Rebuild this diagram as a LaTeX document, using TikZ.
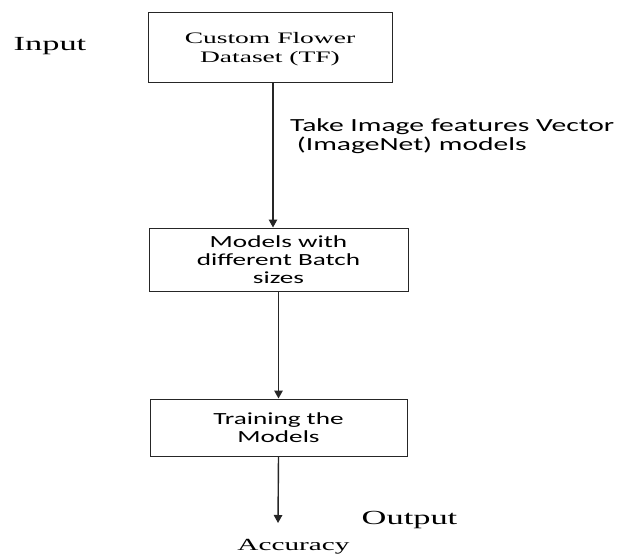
\documentclass[tikz,border=0pt]{standalone}
\usepackage{fontspec}
\usepackage{graphicx}
\usetikzlibrary{arrows.meta}
\newfontfamily\serifR{Liberation Serif}
\newfontfamily\sansC{Carlito}
% horizontally widened lettering
\newcommand{\wideR}[1]{\scalebox{1.72}[1]{#1}}
\newcommand{\wideS}[1]{\scalebox{1.6}[1]{#1}}
% lowered by a little, keeping the box size
\newcommand{\lowr}[1]{\raisebox{-2.5pt}[\height][\depth]{#1}}
\begin{document}
\begin{tikzpicture}[x=1pt,y=-1pt,
  stagebox/.style={draw=black!85,line width=1pt,inner sep=0pt,align=center},
  flow/.style={draw=black!85,line width=1.4pt,-{Triangle[length=8pt,width=8.5pt]}},
  sidelabel/.style={inner sep=0pt,font=\serifR\fontsize{20}{22}\selectfont}
]
\useasboundingbox (0,0) rectangle (619,554);

\node[sidelabel,anchor=base] (in) at (50,50.7) {\wideR{Input}};

\node[stagebox,minimum width=244pt,minimum height=70pt,
      font=\serifR\fontsize{16}{19}\selectfont] (data) at (270,47)
  {\lowr{\wideR{Custom Flower}}\\\lowr{\wideR{Dataset (TF)}}};

\node[stagebox,minimum width=259pt,minimum height=63pt,
      font=\sansC\fontsize{17}{18.3}\selectfont] (models) at (278.5,259.5)
  {\wideS{Models with}\\\wideS{different Batch}\\\wideS{sizes}};

\node[stagebox,minimum width=257pt,minimum height=57pt,
      font=\sansC\fontsize{17}{18.3}\selectfont] (train) at (278.5,427.5)
  {\wideS{Training the}\\\wideS{Models}};

\node[inner sep=0pt,anchor=base west,align=left,
      font=\sansC\fontsize{18.5}{18.3}\selectfont] (feat) at (290,150)
  {\wideS{Take Image features Vector}\\\wideS{\ (ImageNet) models}};

\node[sidelabel,anchor=base] (out) at (409.5,524) {\wideR{Output}};
\node[inner sep=0pt,anchor=base,font=\serifR\fontsize{17}{19}\selectfont]
  (acc) at (293.5,550.7) {\wideR{Accuracy}};
\coordinate (acctop) at (278,523);

\draw[flow] ([xshift=3pt]data.south) -- ([xshift=3pt]data.south |- models.north);
\draw[flow] (models.south) -- (models.south |- train.north);
\draw[flow] (train.south) -- (acctop);
\end{tikzpicture}
\end{document}
